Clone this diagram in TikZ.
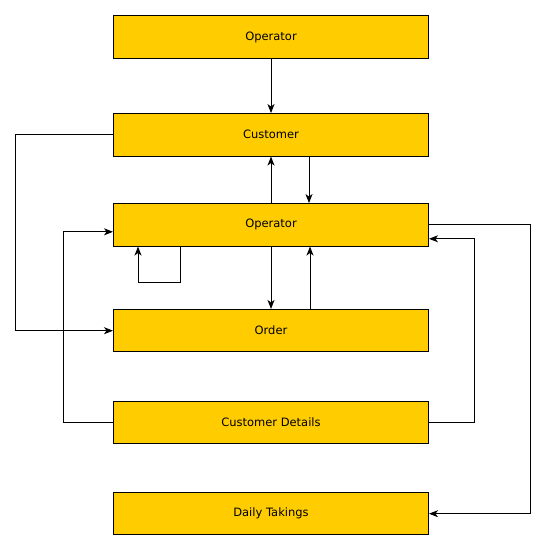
\documentclass[tikz,border=0pt]{standalone}
\usepackage{fontspec}
\setmainfont{DejaVu Sans}
\usetikzlibrary{arrows.meta}
\definecolor{boxyellow}{HTML}{FFCC00}
\tikzset{>={Stealth[length=9pt,width=7pt,inset=2.5pt]},
  box/.style={draw,fill=boxyellow,line width=1pt,minimum width=315pt,minimum height=42.5pt,
    inner sep=0pt,font=\fontsize{11.5}{13}\selectfont}}

\begin{document}
\begin{tikzpicture}[x=1pt,y=-1pt,line width=1pt]
    \useasboundingbox (0,0) rectangle (546,551);
    \node[box] (opA) at (271,37) {Operator};
    \node[box] (cust) at (271,134.8) {Customer};
    \node[box] (opB) at (271,224.8) {Operator};
    \node[box] (order) at (271,330.7) {Order};
    \node[box] (details) at (271,422.5) {Customer Details};
    \node[box] (takings) at (271,513.7) {Daily Takings};
    % straight links
    \draw [->] (opA) -- (cust);
    \draw [->] (opB) -- (cust);
    \draw [->] ([xshift=38pt]cust.south) -- ([xshift=38pt]opB.north);
    \draw [->] (opB) -- (order);
    \draw [->] ([xshift=39pt]order.north) -- ([xshift=39pt]opB.south);
    % loop back on operator
    \draw [->] ([xshift=-91pt]opB.south) -- ++(0,36) -| ([xshift=-133pt]opB.south);
    % outer links
    \draw [->] (cust.west) -- ++(-98,0) |- (order.west);
    \draw [->] (details.west) -- ++(-50,0) |- ([yshift=-7pt]opB.west);
    \draw [->] (opB.east) -- ++(101,0) |- (takings.east);
    \draw [->] (details.east) -- ++(45,0) |- ([yshift=-14pt]opB.east);
\end{tikzpicture}
\end{document}
